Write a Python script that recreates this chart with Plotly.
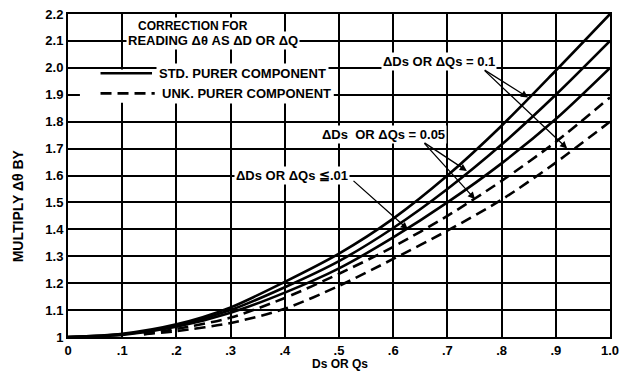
import plotly.graph_objects as go

# ---- data ----
x_std = [0.0, 0.1, 0.2, 0.3, 0.4, 0.5, 0.6, 0.7, 0.8, 0.9, 1.0]
std_d10 = [1.0, 1.012, 1.047, 1.11, 1.205, 1.31, 1.44, 1.60, 1.785, 1.99, 2.2]
std_d05 = [1.0, 1.010, 1.042, 1.10, 1.185, 1.282, 1.405, 1.55, 1.715, 1.90, 2.1]
std_d01 = [1.0, 1.008, 1.038, 1.09, 1.165, 1.255, 1.37, 1.50, 1.645, 1.81, 2.0]

x_unk = [0.14, 0.2, 0.3, 0.4, 0.5, 0.6, 0.7, 0.8, 0.9, 1.0]
unk_d05 = [1.01, 1.03, 1.072, 1.145, 1.235, 1.335, 1.45, 1.58, 1.725, 1.89]
unk_d10 = [1.01, 1.022, 1.052, 1.105, 1.19, 1.29, 1.395, 1.51, 1.648, 1.80]

x_tickvals = [0, 0.1, 0.2, 0.3, 0.4, 0.5, 0.6, 0.7, 0.8, 0.9, 1.0]
x_ticktext = ["0", ".1", ".2", ".3", ".4", ".5", ".6", ".7", ".8", ".9", "1.0"]
y_tickvals = [1.0, 1.1, 1.2, 1.3, 1.4, 1.5, 1.6, 1.7, 1.8, 1.9, 2.0, 2.1, 2.2]
y_ticktext = ["1", "1.1", "1.2", "1.3", "1.4", "1.5", "1.6", "1.7", "1.8", "1.9", "2.0", "2.1", "2.2"]

FONT = "Liberation Sans"
LW = 2.6
DASH = "11px,6px"

fig = go.Figure()
for ys in (std_d10, std_d05, std_d01):
    fig.add_trace(go.Scatter(x=x_std, y=ys, mode="lines",
                             line=dict(color="black", width=LW, shape="spline", smoothing=0.8),
                             showlegend=False, hoverinfo="skip"))
for ys in (unk_d05, unk_d10):
    fig.add_trace(go.Scatter(x=x_unk, y=ys, mode="lines",
                             line=dict(color="black", width=LW, dash=DASH, shape="spline", smoothing=0.8),
                             showlegend=False, hoverinfo="skip"))

fnt = dict(family=FONT, size=12, color="black", weight="bold")
fnt13 = dict(family=FONT, size=13, color="black", weight="bold")
annos = []
# title box
annos.append(dict(x=0.23, y=2.155, xref="x", yref="y", text="CORRECTION FOR", showarrow=False, font=fnt, bgcolor="white", borderpad=1))
annos.append(dict(x=0.268, y=2.1, xref="x", yref="y", text="READING Δθ AS ΔD OR ΔQ", showarrow=False, font=fnt13, bgcolor="white", borderpad=1))
# legend texts
annos.append(dict(x=0.162, y=1.98, xref="x", yref="y", text="STD. PURER COMPONENT", showarrow=False, xanchor="left", font=fnt13, bgcolor="white", borderpad=2))
annos.append(dict(x=0.167, y=1.905, xref="x", yref="y", text="UNK. PURER COMPONENT", showarrow=False, xanchor="left", font=fnt13, bgcolor="white", borderpad=2))
# labels
annos.append(dict(x=0.685, y=2.022, xref="x", yref="y", text="ΔDs OR ΔQs = 0.1", showarrow=False, font=fnt13, bgcolor="white", borderpad=1))
annos.append(dict(x=0.583, y=1.752, xref="x", yref="y", text="ΔDs  OR ΔQs = 0.05", showarrow=False, font=fnt13, bgcolor="white", borderpad=1))
annos.append(dict(x=0.413, y=1.60, xref="x", yref="y", text="ΔDs OR ΔQs ≦.01", showarrow=False, font=fnt13, bgcolor="white", borderpad=1))
# arrows
arrows = [((0.766, 1.995), (0.849, 1.89)), ((0.766, 1.995), (0.921, 1.70)),
          ((0.655, 1.725), (0.736, 1.617)), ((0.655, 1.725), (0.751, 1.512)),
          ((0.524, 1.585), (0.627, 1.40))]
for (tx, ty), (hx, hy) in arrows:
    annos.append(dict(x=hx, y=hy, ax=tx, ay=ty, xref="x", yref="y", axref="x", ayref="y", text="", showarrow=True,
                      arrowhead=2, arrowsize=1.1, arrowwidth=1.3, arrowcolor="black"))
# axis titles
annos.append(dict(x=-0.092, y=0.405, xref="paper", yref="paper", text="MULTIPLY Δθ BY", showarrow=False,
                  textangle=-90, xanchor="center", yanchor="middle", font=dict(family=FONT, size=14, color="black", weight="bold")))
annos.append(dict(x=0.502, y=-0.084, xref="paper", yref="paper", text="Ds OR Qs", showarrow=False,
                  xanchor="center", yanchor="middle", font=fnt))
fig.update_layout(annotations=annos)

shapes = [
    dict(type="rect", xref="x", yref="y", x0=0.022, x1=0.49, y0=1.87, y1=1.994, fillcolor="white", line=dict(width=0), layer="between"),
    dict(type="line", xref="x", yref="y", x0=0.06, x1=0.155, y0=1.98, y1=1.98, line=dict(color="black", width=LW), layer="above"),
    dict(type="line", xref="x", yref="y", x0=0.06, x1=0.16, y0=1.905, y1=1.905, line=dict(color="black", width=LW, dash=DASH), layer="above"),
]
fig.update_layout(shapes=shapes)

axis_common = dict(showgrid=True, gridcolor="black", gridwidth=1.5, showline=True, linecolor="black", linewidth=2,
                   mirror=True, ticks="", zeroline=False, automargin=False,
                   tickfont=dict(family=FONT, size=13, color="black", weight="bold"))
fig.update_xaxes(range=[0, 1.0], tickvals=x_tickvals, ticktext=x_ticktext, **axis_common)
fig.update_yaxes(range=[1.0, 2.2], tickvals=y_tickvals, ticktext=y_ticktext, **axis_common)

fig.update_layout(template="none", width=626, height=382, margin=dict(l=68, r=16, t=14, b=45),
                  plot_bgcolor="white", paper_bgcolor="white", showlegend=False)

fig.write_html("out.html", config={"displayModeBar": False},
               post_script="document.body.style.margin='0';")
